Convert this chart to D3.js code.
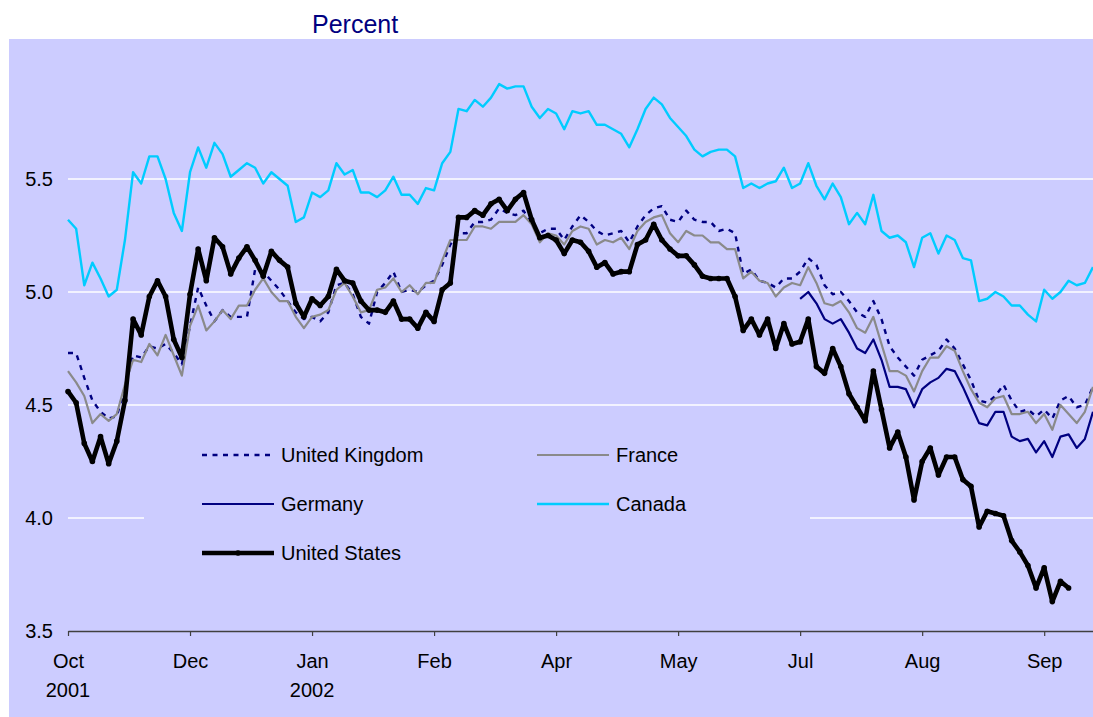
<!DOCTYPE html>
<html>
<head>
<meta charset="utf-8">
<script src="https://cdn.jsdelivr.net/npm/d3@7"></script>
<style>
  body { margin: 0; background: #fff; }
  text { font-family: "Liberation Sans", Arial, sans-serif; }
</style>
</head>
<body>
<div id="grafico"></div>
<script>
// ancho y alto de la figura
var ancho = 1093, alto = 717;

// etiquetas del eje x (una cada 15 observaciones)
var meses = ["Oct","Dec","Jan","Feb","Apr","May","Jul","Aug","Sep"];
var anios = ["2001","","2002","","","","","",""];
var pasoTick = 15;
var ticksY = [3.5, 4.0, 4.5, 5.0, 5.5];

// series, una observacion por posicion
var uk = [4.73,4.73,4.62,4.52,4.47,4.44,4.45,4.58,4.72,4.71,
  4.76,4.75,4.77,4.73,4.68,4.85,5.02,4.94,4.87,4.92,
  4.89,4.89,4.89,5.10,5.09,5.05,5.01,4.96,4.91,4.88,
  4.89,4.87,4.91,5.03,5.04,4.99,4.89,4.86,5.00,5.04,
  5.09,5.00,5.01,5.00,5.03,5.05,5.12,5.21,5.26,5.26,
  5.31,5.31,5.32,5.37,5.35,5.34,5.36,5.30,5.26,5.28,
  5.28,5.23,5.29,5.34,5.31,5.27,5.25,5.26,5.27,5.22,
  5.29,5.34,5.37,5.38,5.32,5.31,5.36,5.32,5.31,5.31,
  5.27,5.28,5.26,5.08,5.10,5.05,5.04,5.02,5.06,5.06,
  5.09,5.15,5.12,5.03,4.99,5.00,4.96,4.91,4.89,4.96,
  4.88,4.76,4.71,4.67,4.63,4.70,4.72,4.74,4.79,4.75,
  4.68,4.61,4.52,4.51,4.54,4.59,4.52,4.47,4.48,4.45,
  4.48,4.44,4.52,4.54,4.49,4.50,4.58];

var france = [4.65,4.60,4.54,4.42,4.46,4.43,4.46,4.59,4.70,4.69,
  4.77,4.72,4.81,4.72,4.63,4.85,4.94,4.83,4.87,4.92,
  4.88,4.94,4.94,5.01,5.06,5.00,4.96,4.96,4.89,4.84,
  4.89,4.90,4.92,5.01,5.04,4.98,4.91,4.92,5.01,5.02,
  5.06,5.00,5.03,4.99,5.04,5.04,5.14,5.23,5.23,5.23,
  5.29,5.29,5.28,5.31,5.31,5.31,5.34,5.30,5.22,5.26,
  5.25,5.21,5.27,5.29,5.28,5.21,5.23,5.22,5.24,5.19,
  5.27,5.31,5.33,5.34,5.26,5.22,5.27,5.25,5.25,5.22,
  5.22,5.19,5.19,5.06,5.09,5.05,5.04,4.98,5.02,5.04,
  5.03,5.11,5.04,4.95,4.94,4.96,4.91,4.84,4.82,4.89,
  4.77,4.65,4.65,4.63,4.56,4.65,4.71,4.71,4.76,4.74,
  4.65,4.57,4.51,4.49,4.53,4.54,4.46,4.46,4.47,4.42,
  4.46,4.39,4.50,4.46,4.42,4.47,4.58];

// Alemania sin datos hasta julio
var germany = Array(90).fill(null).concat([
  4.97,5.00,4.95,4.88,4.86,4.88,4.82,4.75,4.73,4.79,
  4.70,4.58,4.58,4.57,4.49,4.57,4.60,4.62,4.66,4.65,
  4.58,4.50,4.42,4.41,4.47,4.47,4.36,4.34,4.35,4.29,
  4.34,4.27,4.36,4.37,4.31,4.35,4.47]);

var canada = [5.32,5.28,5.03,5.13,5.06,4.98,5.01,5.23,5.53,5.48,
  5.60,5.60,5.50,5.35,5.27,5.53,5.64,5.55,5.66,5.61,
  5.51,5.54,5.57,5.55,5.48,5.53,5.50,5.47,5.31,5.33,
  5.44,5.42,5.45,5.57,5.52,5.54,5.44,5.44,5.42,5.45,
  5.51,5.43,5.43,5.39,5.46,5.45,5.57,5.62,5.81,5.80,
  5.85,5.82,5.86,5.92,5.90,5.91,5.91,5.82,5.77,5.81,
  5.79,5.72,5.80,5.79,5.80,5.74,5.74,5.72,5.70,5.64,
  5.72,5.81,5.86,5.83,5.77,5.73,5.69,5.63,5.60,5.62,
  5.63,5.63,5.60,5.46,5.48,5.46,5.48,5.49,5.55,5.46,
  5.48,5.57,5.47,5.41,5.48,5.42,5.30,5.35,5.30,5.43,
  5.27,5.24,5.25,5.22,5.11,5.24,5.26,5.17,5.25,5.23,
  5.15,5.14,4.96,4.97,5.00,4.98,4.94,4.94,4.90,4.87,
  5.01,4.97,5.00,5.05,5.03,5.04,5.11];

var us = [4.56,4.51,4.33,4.25,4.36,4.24,4.34,4.52,4.88,4.81,
  4.98,5.05,4.98,4.79,4.71,4.99,5.19,5.05,5.24,5.20,
  5.08,5.15,5.20,5.14,5.07,5.18,5.14,5.11,4.95,4.89,
  4.97,4.94,4.98,5.10,5.05,5.04,4.96,4.92,4.92,4.91,
  4.96,4.88,4.88,4.84,4.91,4.87,5.01,5.04,5.33,5.33,
  5.36,5.34,5.39,5.41,5.36,5.41,5.44,5.32,5.24,5.25,
  5.23,5.17,5.23,5.22,5.18,5.11,5.13,5.08,5.09,5.09,
  5.21,5.23,5.30,5.23,5.19,5.16,5.16,5.12,5.07,5.06,
  5.06,5.06,4.98,4.83,4.88,4.81,4.88,4.75,4.86,4.77,
  4.78,4.88,4.67,4.64,4.75,4.67,4.55,4.49,4.43,4.65,
  4.48,4.31,4.38,4.27,4.08,4.25,4.31,4.19,4.27,4.27,
  4.17,4.14,3.96,4.03,4.02,4.01,3.90,3.85,3.79,3.69,
  3.78,3.63,3.72,3.69];

var series = [
  {nombre: "United Kingdom", datos: uk, color: "#000080", grosor: 2.4, guion: "5,5.5"},
  {nombre: "France", datos: france, color: "#8a8a8a", grosor: 2.2, guion: null},
  {nombre: "Germany", datos: germany, color: "#000080", grosor: 2.2, guion: null},
  {nombre: "Canada", datos: canada, color: "#00ccff", grosor: 2.4, guion: null},
  {nombre: "United States", datos: us, color: "#000000", grosor: 4.6, guion: null, puntos: true}
];

var svg = d3.select("#grafico")
  .append("svg")
  .attr("width", ancho)
  .attr("height", alto);

svg.append("rect")
  .attr("x", 9).attr("y", 39)
  .attr("width", ancho - 9).attr("height", alto - 39)
  .attr("fill", "#ccccff");

svg.append("text")
  .text("Percent")
  .attr("x", 312).attr("y", 33)
  .attr("font-size", "25px")
  .attr("fill", "#000080");

var escalaX = d3.scaleLinear()
  .domain([0, 126])
  .range([68, 1093]);

var escalaY = d3.scaleLinear()
  .domain([3.5, 6.0])
  .range([631, 66]);

// lineas de rejilla
svg.selectAll("line.rejilla")
  .data(ticksY.filter(function(d){ return d > 3.5; }))
  .enter()
  .append("line")
  .attr("class", "rejilla")
  .attr("x1", escalaX(0)).attr("x2", ancho)
  .attr("y1", function(d){ return escalaY(d); })
  .attr("y2", function(d){ return escalaY(d); })
  .attr("stroke", "#ffffff")
  .attr("stroke-width", 1.3);

// caja de la leyenda (tapa la rejilla)
svg.append("rect")
  .attr("x", 144).attr("y", 422)
  .attr("width", 666).attr("height", 160)
  .attr("fill", "#ccccff");

// eje y
var ejeY = svg.append("g")
  .attr("transform", "translate(" + escalaX(0) + ",0)")
  .call(d3.axisLeft(escalaY).tickValues(ticksY).tickFormat(d3.format(".1f")).tickSize(0).tickPadding(15));
ejeY.select(".domain").remove();
ejeY.selectAll("text")
  .attr("font-size", "20px")
  .attr("font-family", "Liberation Sans, Arial, sans-serif")
  .attr("fill", "#000");

// eje x
var ejeX = svg.append("g")
  .attr("transform", "translate(0," + escalaY(3.5) + ")")
  .call(d3.axisBottom(escalaX)
    .tickValues(d3.range(0, meses.length * pasoTick, pasoTick))
    .tickFormat(function(d, i){ return meses[i]; })
    .tickSize(5).tickSizeOuter(0).tickPadding(18));
ejeX.select(".domain").attr("stroke", "#404040").attr("stroke-width", 1.5);
ejeX.selectAll(".tick line").attr("stroke", "#404040").attr("stroke-width", 1.2);
ejeX.selectAll("text")
  .attr("font-size", "20px")
  .attr("font-family", "Liberation Sans, Arial, sans-serif")
  .attr("fill", "#000");

svg.selectAll("text.anio")
  .data(anios)
  .enter()
  .append("text")
  .attr("class", "anio")
  .text(function(d){ return d; })
  .attr("x", function(d, i){ return escalaX(i * pasoTick); })
  .attr("y", 697)
  .attr("text-anchor", "middle")
  .attr("font-size", "20px")
  .attr("fill", "#000");

// lineas
var linea = d3.line()
  .defined(function(d){ return d != null; })
  .x(function(d, i){ return escalaX(i); })
  .y(function(d){ return escalaY(d); });

series.forEach(function(s){
  svg.append("path")
    .datum(s.datos)
    .attr("d", linea)
    .attr("fill", "none")
    .attr("stroke", s.color)
    .attr("stroke-width", s.grosor)
    .attr("stroke-dasharray", s.guion)
    .attr("stroke-linejoin", "round");
  if (s.puntos) {
    svg.selectAll("circle.p")
      .data(s.datos)
      .enter()
      .append("circle")
      .attr("class", "p")
      .attr("cx", function(d, i){ return escalaX(i); })
      .attr("cy", function(d){ return escalaY(d); })
      .attr("r", 2.8)
      .attr("fill", s.color);
  }
});

// leyenda
var colX = [202, 537], filaY = [455, 504, 553];
var ley = svg.selectAll("g.ley")
  .data(series)
  .enter()
  .append("g")
  .attr("class", "ley")
  .attr("transform", function(d, i){
    return "translate(" + colX[i % 2] + "," + filaY[Math.floor(i / 2)] + ")";
  });
ley.append("line")
  .attr("x1", 0).attr("x2", 72)
  .attr("stroke", function(d){ return d.color; })
  .attr("stroke-width", function(d){ return d.grosor; })
  .attr("stroke-dasharray", function(d){ return d.guion; });
ley.filter(function(d){ return d.puntos; })
  .append("circle")
  .attr("cx", 36).attr("r", 2.8)
  .attr("fill", "#000");
ley.append("text")
  .text(function(d){ return d.nombre; })
  .attr("x", 79).attr("y", 7)
  .attr("font-size", "20px")
  .attr("fill", "#000");
</script>
</body>
</html>
